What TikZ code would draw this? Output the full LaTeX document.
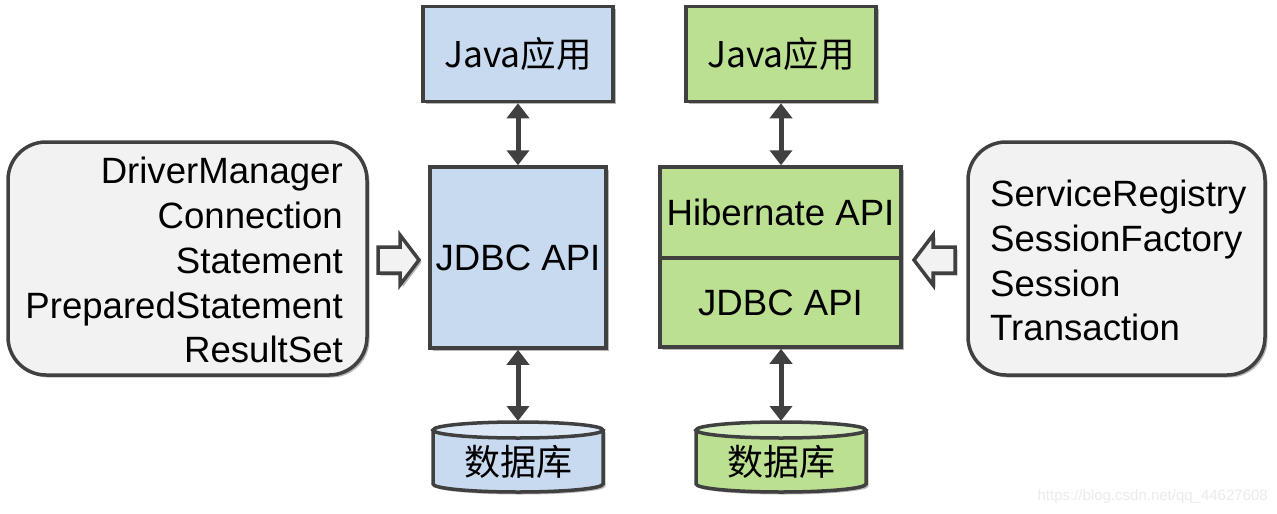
\documentclass[tikz,border=0pt]{standalone}
\usepackage{fontspec}
\setmainfont{Liberation Sans}
\newfontfamily\cjk{Noto Sans CJK SC}
\usetikzlibrary{arrows.meta,shadows}
\definecolor{bord}{HTML}{404040}
\definecolor{bluefill}{HTML}{C8DAF0}
\definecolor{bluetop}{HTML}{DDE8F6}
\definecolor{greenfill}{HTML}{BCE091}
\definecolor{greentop}{HTML}{D6EEBD}
\definecolor{grayfill}{HTML}{F2F2F2}
\begin{document}
\begin{tikzpicture}[x=1pt,y=-1pt,
  shad/.style={drop shadow={shadow xshift=2.5pt,shadow yshift=-2.5pt,fill=black,opacity=0.28}},
  box/.style={draw=bord,line width=3.5pt,inner sep=0pt,shad},
  bluebox/.style={box,fill=bluefill},
  greenbox/.style={box,fill=greenfill},
  graybox/.style={box,fill=grayfill,rounded corners=38pt},
  big/.style={font=\fontsize{36.6}{44}\selectfont},
  cjkbig/.style={font=\cjk\fontsize{35.5}{40}\selectfont},
  dbtext/.style={font=\cjk\fontsize{36}{40}\selectfont,inner sep=0pt},
  conn/.style={draw=bord,line width=5pt,{Triangle[width=22pt,length=15pt]}-{Triangle[width=22pt,length=15pt]}},
  hollow/.style={draw=bord,fill=grayfill,line width=3.5pt,line join=miter,shad},
  line/.style={big,inner sep=0pt}
]
\useasboundingbox (0,0) rectangle (1277,514);

% left column
\node[bluebox,minimum width=190pt,minimum height=95pt,cjkbig] (ljava) at (518,54) {Java应用};
\node[bluebox,minimum width=176pt,minimum height=181pt,big] (ljdbc) at (518,257.5) {JDBC API};

% right column
\node[greenbox,minimum width=190pt,minimum height=95pt,cjkbig] (rjava) at (781,54) {Java应用};
\node[greenbox,minimum width=241pt,minimum height=91pt,big] (rhib) at (780.5,212.5) {Hibernate API};
\node[greenbox,minimum width=241pt,minimum height=89pt,big] (rjdbc) at (780.5,302.5) {JDBC API};

% cylinders
\foreach \cx/\body/\top in {518/bluefill/bluetop, 781/greenfill/greentop}{
  \fill[black,opacity=0.28,shift={(2.5,2.5)}] (\cx-85,430) -- (\cx-85,484) arc[start angle=180,end angle=360,x radius=85pt,y radius=8pt] -- (\cx+85,430) arc[start angle=0,end angle=180,x radius=85pt,y radius=8pt] -- cycle;
  \draw[bord,line width=3.5pt,fill=\body] (\cx-85,430) -- (\cx-85,484) arc[start angle=180,end angle=360,x radius=85pt,y radius=8pt] -- (\cx+85,430);
  \draw[bord,line width=3.5pt,fill=\top] (\cx,430) ellipse[x radius=85pt,y radius=8pt];
}
\node[dbtext] (ldb) at (518,462) {数据库};
\node[dbtext] (rdb) at (781,462) {数据库};
\coordinate (ldbtop) at (518,421);
\coordinate (rdbtop) at (781,421);

% connectors
\draw[conn] (ljava.south) -- (ljdbc.north);
\draw[conn] (ljdbc.south) -- (ldbtop);
\draw[conn] (rjava.south) -- (rjava.south |- rhib.north);
\draw[conn] (rjava.south |- rjdbc.south) -- (rdbtop);

% left rounded box
\node[graybox,minimum width=359pt,minimum height=233pt] (lbox) at (187.5,258.5) {};
\node[line,anchor=base east] (l1) at (343,183) {DriverManager};
\node[line,anchor=base east] (l2) at (343,228) {Connection};
\node[line,anchor=base east] (l3) at (343,273) {Statement};
\node[line,anchor=base east] (l4) at (343,318) {PreparedStatement};
\node[line,anchor=base east] (l5) at (343,362) {ResultSet};

% right rounded box
\node[graybox,minimum width=297pt,minimum height=233pt] (rbox) at (1116.5,258.5) {};
\node[line,anchor=base west] (r1) at (990,206) {ServiceRegistry};
\node[line,anchor=base west] (r2) at (990,251) {SessionFactory};
\node[line,anchor=base west] (r3) at (990,296) {Session};
\node[line,anchor=base west] (r4) at (990,340) {Transaction};

% hollow arrows
\path[hollow] (378,247) -- (400,247) -- (400,235) -- (419,260) -- (400,285) -- (400,273) -- (378,273) -- cycle;
\path[hollow] (955,247) -- (933,247) -- (933,235) -- (914,260) -- (933,285) -- (933,273) -- (955,273) -- cycle;

% watermark
\node[anchor=east,text=black!8,font=\fontsize{15}{18}\selectfont,inner sep=0pt] (wm) at (1268,497) {https://blog.csdn.net/qq\_44627608};
\end{tikzpicture}
\end{document}
